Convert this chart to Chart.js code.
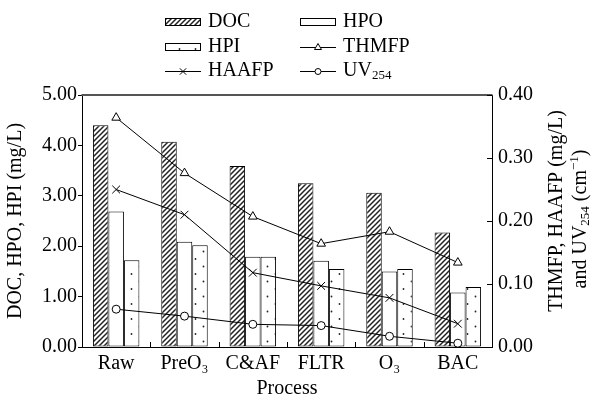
<!DOCTYPE html>
<html><head><meta charset="utf-8">
<script src="https://cdn.jsdelivr.net/npm/chart.js@4/dist/chart.umd.min.js"></script>
<style>html,body{margin:0;padding:0;background:#fff}canvas{display:block}</style>
</head><body>
<canvas id="c" width="592" height="396"></canvas>
<script>
// ---- data ----
const categories = ['Raw', 'PreO\u2083', 'C&AF', 'FLTR', 'O\u2083', 'BAC'];
const docValues = [4.40, 4.07, 3.59, 3.25, 3.06, 2.27];
const hpoValues = [2.69, 2.09, 1.79, 1.71, 1.50, 1.08];
const hpiValues = [1.72, 2.02, 1.79, 1.55, 1.55, 1.19];
const thmfpValues = [0.364, 0.276, 0.207, 0.164, 0.183, 0.134];
const haafpValues = [0.250, 0.210, 0.118, 0.097, 0.078, 0.037];
const uvValues = [0.060, 0.049, 0.036, 0.034, 0.017, 0.006];
const leftTicks = [0, 1, 2, 3, 4, 5];
const rightTicks = [0, 0.1, 0.2, 0.3, 0.4];

const FONT = '"Liberation Serif", "Times New Roman", serif';

function hatchPattern() {
  const s = 5, c = document.createElement('canvas');
  c.width = s; c.height = s;
  const g = c.getContext('2d');
  g.fillStyle = '#fff'; g.fillRect(0, 0, s, s);
  g.strokeStyle = '#222'; g.lineWidth = 1.5;
  g.beginPath();
  g.moveTo(-1, 1); g.lineTo(1, -1);
  g.moveTo(0, s); g.lineTo(s, 0);
  g.moveTo(s - 1, s + 1); g.lineTo(s + 1, s - 1);
  g.stroke();
  return g.createPattern(c, 'repeat');
}
function dotPattern() {
  const c = document.createElement('canvas');
  c.width = 16; c.height = 15;
  const g = c.getContext('2d');
  g.fillStyle = '#fff'; g.fillRect(0, 0, 16, 15);
  g.fillStyle = '#222';
  g.beginPath(); g.arc(3.5, 4, 0.9, 0, Math.PI * 2); g.fill();
  g.beginPath(); g.arc(11.5, 11.5, 0.9, 0, Math.PI * 2); g.fill();
  return g.createPattern(c, 'repeat');
}
const hatch = hatchPattern();
const dots = dotPattern();

const barCommon = { borderColor: '#000', borderWidth: 1, borderSkipped: false,
  categoryPercentage: 0.68, barPercentage: 1.0, yAxisID: 'y', order: 2 };
const lineCommon = { type: 'line', borderColor: '#000', borderWidth: 1, backgroundColor: '#fff',
  pointBorderColor: '#000', pointBackgroundColor: '#fff', pointBorderWidth: 1,
  yAxisID: 'y2', order: 0, tension: 0, fill: false };

const datasets = [
  Object.assign({ label: 'DOC', data: docValues, backgroundColor: hatch }, barCommon),
  Object.assign({ label: 'HPO', data: hpoValues, backgroundColor: '#fff' }, barCommon),
  Object.assign({ label: 'HPI', data: hpiValues, backgroundColor: dots }, barCommon),
  Object.assign({ label: 'THMFP', data: thmfpValues, pointStyle: 'triangle', pointRadius: 5 }, lineCommon),
  Object.assign({ label: 'HAAFP', data: haafpValues, pointStyle: 'crossRot', pointRadius: 5.5 }, lineCommon),
  Object.assign({ label: 'UV254', data: uvValues, pointStyle: 'circle', pointRadius: 4 }, lineCommon)
];

function drawRich(ctx, parts, cx, cy, rot) {
  ctx.save();
  ctx.translate(cx, cy);
  if (rot) ctx.rotate(rot);
  let w = 0;
  parts.forEach(p => { ctx.font = p.size + 'px ' + FONT; p.w = ctx.measureText(p.t).width; w += p.w; });
  let x = -w / 2;
  ctx.textBaseline = 'middle'; ctx.textAlign = 'left'; ctx.fillStyle = '#000';
  parts.forEach(p => { ctx.font = p.size + 'px ' + FONT; ctx.fillText(p.t, x, p.dy || 0); x += p.w; });
  ctx.restore();
}
function drawRichLeft(ctx, parts, x, y) {
  ctx.save();
  ctx.textBaseline = 'middle'; ctx.textAlign = 'left'; ctx.fillStyle = '#000';
  parts.forEach(p => { ctx.font = p.size + 'px ' + FONT; ctx.fillText(p.t, x, y + (p.dy || 0)); x += ctx.measureText(p.t).width; });
  ctx.restore();
}

const decor = {
  id: 'decor',
  afterDraw(chart) {
    const { ctx, chartArea: a, scales } = chart;
    const x = scales.x, y2 = scales.y2;
    ctx.save();
    // top frame line
    ctx.strokeStyle = '#555'; ctx.lineWidth = 2;
    ctx.beginPath(); ctx.moveTo(a.left - 0.5, a.top); ctx.lineTo(a.right + 0.5, a.top); ctx.stroke();
    // right inside ticks
    ctx.strokeStyle = '#000'; ctx.lineWidth = 1;
    ctx.beginPath();
    rightTicks.forEach(v => {
      const py = Math.round(y2.getPixelForValue(v)) + 0.5;
      ctx.moveTo(a.right - 5, py); ctx.lineTo(a.right, py);
    });
    // x category boundary ticks
    for (let i = 0; i < categories.length - 1; i++) {
      const px = Math.round((x.getPixelForValue(i) + x.getPixelForValue(i + 1)) / 2) + 0.5;
      ctx.moveTo(px, a.bottom); ctx.lineTo(px, a.bottom - 5);
    }
    ctx.stroke();

    // legend
    const ds = chart.data.datasets;
    const cols = [165, 300], symW = 36, textGap = 7;
    const rows = [22, 47, 71];
    ds.forEach((d, i) => {
      const cx = cols[i % 2], cy = rows[Math.floor(i / 2)];
      ctx.save();
      if (d.type === 'line') {
        ctx.strokeStyle = '#000'; ctx.lineWidth = 1;
        ctx.beginPath(); ctx.moveTo(cx, cy + 0.5); ctx.lineTo(cx + symW, cy + 0.5); ctx.stroke();
        ctx.fillStyle = '#fff'; ctx.strokeStyle = '#000'; ctx.lineWidth = 1;
        Chart.helpers.drawPoint(ctx, { pointStyle: d.pointStyle, radius: d.pointRadius - 1, borderWidth: 1,
          rotation: 0 }, cx + symW / 2, cy + 0.5);
      } else {
        ctx.fillStyle = d.backgroundColor; ctx.strokeStyle = '#000'; ctx.lineWidth = 1;
        ctx.fillRect(cx, cy - 4, symW, 8);
        ctx.strokeRect(cx + 0.5, cy - 3.5, symW - 1, 7);
      }
      ctx.restore();
      const tx = cx + symW + textGap;
      if (d.label === 'UV254') {
        drawRichLeft(ctx, [{ t: 'UV', size: 20 }, { t: '254', size: 13, dy: 5 }], tx, cy);
      } else {
        drawRichLeft(ctx, [{ t: d.label, size: 20 }], tx, cy);
      }
    });

    // right axis title
    drawRich(ctx, [{ t: 'THMFP, HAAFP (mg/L)', size: 20 }], 557, 211, -Math.PI / 2);
    drawRich(ctx, [{ t: 'and UV', size: 20 }, { t: '254', size: 13, dy: 5 }, { t: ' (cm', size: 20 },
      { t: '\u22121', size: 13, dy: -6 }, { t: ')', size: 20 }], 581, 219, -Math.PI / 2);
    ctx.restore();
  }
};

new Chart(document.getElementById('c'), {
  type: 'bar',
  data: { labels: categories, datasets: datasets },
  options: {
    responsive: false, animation: false, devicePixelRatio: 1,
    layout: { padding: { top: 95, left: 0, right: 0, bottom: 0 } },
    plugins: { legend: { display: false }, tooltip: { enabled: false } },
    scales: {
      x: {
        grid: { display: false, drawTicks: false },
        border: { display: true, color: '#000', width: 1 },
        ticks: { color: '#000', font: { family: FONT, size: 20 }, padding: 5, maxRotation: 0, autoSkip: false },
        title: { display: true, text: 'Process', color: '#000', font: { family: FONT, size: 20, lineHeight: 1 }, padding: { top: 0, bottom: -3 } },
        afterFit(s) { s.height = 49; }
      },
      y: {
        position: 'left', min: 0, max: 5,
        afterBuildTicks(s) { s.ticks = leftTicks.map(v => ({ value: v })); },
        grid: { drawOnChartArea: false, drawTicks: true, tickLength: 4, color: '#000' },
        border: { display: true, color: '#000', width: 1 },
        ticks: { color: '#000', font: { family: FONT, size: 20 }, padding: 1, callback: v => Number(v).toFixed(2) },
        title: { display: true, text: 'DOC, HPO, HPI (mg/L)', color: '#000', font: { family: FONT, size: 20, lineHeight: 1.2 }, padding: { top: 4, bottom: 0 } },
        afterFit(s) { s.width = 82; }
      },
      y2: {
        position: 'right', min: 0, max: 0.4,
        afterBuildTicks(s) { s.ticks = rightTicks.map(v => ({ value: v })); },
        grid: { display: false, drawTicks: false },
        border: { display: true, color: '#000', width: 1 },
        ticks: { color: '#000', font: { family: FONT, size: 20 }, padding: 6, callback: v => Number(v).toFixed(2) },
        afterFit(s) { s.width = 100; }
      }
    }
  },
  plugins: [decor]
});
</script>
</body></html>
